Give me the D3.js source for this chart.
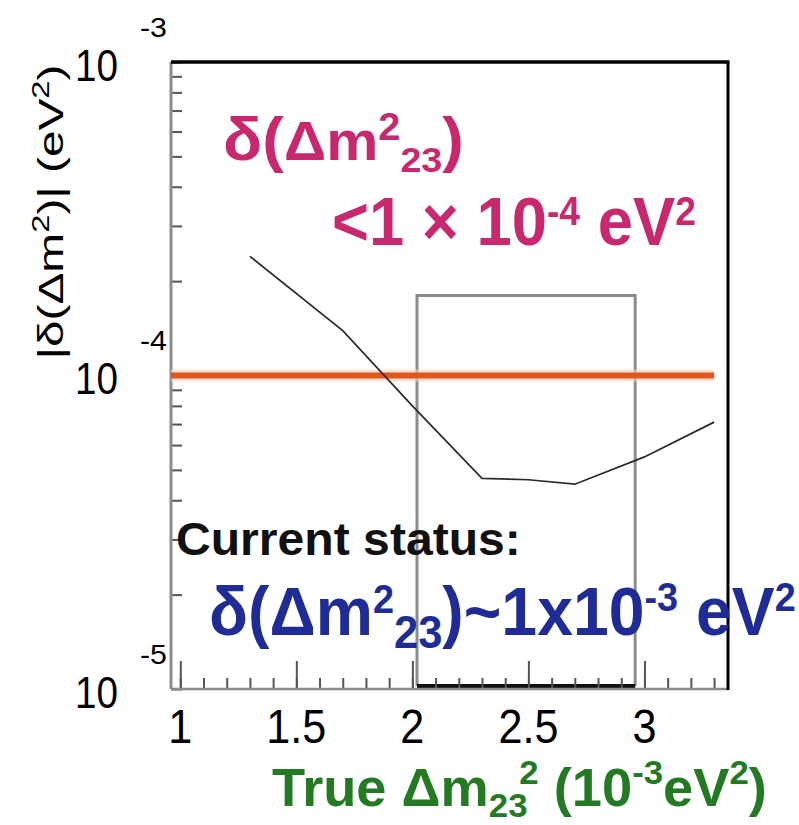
<!DOCTYPE html>
<html>
<head>
<meta charset="utf-8">
<script src="https://cdn.jsdelivr.net/npm/d3@7"></script>
<style>
  body { margin: 0; background: #fff; }
  svg { display: block; }
  text { font-family: "Liberation Sans", Arial, Helvetica, sans-serif; }
</style>
</head>
<body>
<svg id="chart" width="799" height="825"></svg>
<script>
// Expected precision on Δm²23 as a function of the true value
const trueMass = [1.3, 1.7, 2.0, 2.3, 2.5, 2.7, 3.0, 3.3];          // 10^-3 eV^2
const massError = [2.4e-4, 1.39e-4, 8.0e-5, 4.7e-5, 4.65e-5, 4.5e-5, 5.5e-5, 7.1e-5]; // eV^2

// Target precision
const goalError = 1e-4;

// Currently allowed Δm²23 range
const allowedMass = [2.02, 2.96];
const allowedTop = 1.8e-4;

// Axis ticks and labels
const xMajorTicks = [1, 1.5, 2, 2.5, 3];
const xTickLabels = ["1", "1.5", "2", "2.5", "3"];
const yDecades = [1e-3, 1e-4, 1e-5];
const yExponents = ["-3", "-4", "-5"];

const svg = d3.select("#chart");
const plot = { left: 171, right: 728, top: 62, bottom: 689 };

const x = d3.scaleLinear().domain([0.96, 3.36]).range([plot.left, plot.right]);
const y = d3.scaleLog().domain([1e-5, 1e-3]).range([plot.bottom, plot.top]);

// Rich text helper: parts carry their own size and baseline shift;
// the finished run is squeezed horizontally to a target width.
function richText(parent, opt) {
  const g = parent.append("g");
  if (opt.rotate) g.attr("transform", `translate(${opt.x},${opt.y}) rotate(${opt.rotate})`);
  const tx = opt.rotate ? 0 : opt.x, ty = opt.rotate ? 0 : opt.y;
  const t = g.append("text")
    .attr("x", tx).attr("y", ty)
    .attr("text-anchor", opt.anchor || "start")
    .attr("fill", opt.color || "#000")
    .attr("font-weight", opt.weight || "normal");
  let cur = 0;
  opt.parts.forEach(p => {
    const shift = p.shift || 0;
    const ts = t.append("tspan").attr("font-size", p.fs).attr("dy", shift - cur).text(p.t);
    if (p.dx) ts.attr("dx", p.dx);
    cur = shift;
  });
  const w = t.node().getBBox().width;
  let sx = 1;
  if (opt.width) sx = opt.width / w;
  if (opt.squash) sx = opt.squash;
  t.attr("transform", `translate(${tx},${ty}) scale(${sx},1) translate(${-tx},${-ty})`);
  return t;
}

// Allowed-range box
const bx0 = x(allowedMass[0]), bx1 = x(allowedMass[1]);
const byTop = y(allowedTop), byBot = y(1e-5) - 3;
svg.append("path")
  .attr("d", `M${bx0},${byBot}V${byTop}H${bx1}V${byBot}`)
  .attr("fill", "none").attr("stroke", "#8c8c8c").attr("stroke-width", 3);
svg.append("line")
  .attr("x1", bx0).attr("x2", bx1).attr("y1", byBot).attr("y2", byBot)
  .attr("stroke", "#111").attr("stroke-width", 4);

// Axes: ticks point into the plot
const gxMinor = svg.append("g").attr("transform", `translate(0,${plot.bottom})`)
  .call(d3.axisBottom(x).tickValues(x.ticks(24)).tickSize(-11).tickFormat(""));
const gxMajor = svg.append("g").attr("transform", `translate(0,${plot.bottom})`)
  .call(d3.axisBottom(x).tickValues(xMajorTicks).tickSize(-28).tickFormat(""));
const gy = svg.append("g").attr("transform", `translate(${plot.left},0)`)
  .call(d3.axisLeft(y).tickValues(y.ticks()).tickSize(-11).tickFormat(""));
[gxMinor, gxMajor, gy].forEach(g => {
  g.select(".domain").remove();
  g.selectAll(".tick line").attr("stroke", "#555").attr("stroke-width", 2);
});

// Frame: grey left/bottom axes, black top/right borders
svg.append("line").attr("x1", plot.left).attr("x2", plot.left)
  .attr("y1", plot.top).attr("y2", plot.bottom).attr("stroke", "#8c8c8c").attr("stroke-width", 3);
svg.append("line").attr("x1", plot.left).attr("x2", plot.right)
  .attr("y1", plot.bottom).attr("y2", plot.bottom).attr("stroke", "#8c8c8c").attr("stroke-width", 2.5);
svg.append("line").attr("x1", plot.left).attr("x2", plot.right + 1.5)
  .attr("y1", plot.top).attr("y2", plot.top).attr("stroke", "#000").attr("stroke-width", 3.5);
svg.append("line").attr("x1", plot.right).attr("x2", plot.right)
  .attr("y1", plot.top).attr("y2", plot.bottom + 1).attr("stroke", "#000").attr("stroke-width", 3);

// Target precision line
const gx0 = x(0.96), gx1 = x(trueMass[trueMass.length - 1]);
svg.append("line").attr("x1", gx0).attr("x2", gx1).attr("y1", y(goalError)).attr("y2", y(goalError))
  .attr("stroke", "#fbd3b8").attr("stroke-width", 12).attr("opacity", 0.6);
svg.append("line").attr("x1", gx0).attr("x2", gx1).attr("y1", y(goalError)).attr("y2", y(goalError))
  .attr("stroke", "#e0561c").attr("stroke-width", 6);

// Precision curve
svg.append("path")
  .datum(trueMass.map((m, i) => [m, massError[i]]))
  .attr("d", d3.line().x(d => x(d[0])).y(d => y(d[1])))
  .attr("fill", "none").attr("stroke", "#2a2a2a").attr("stroke-width", 1.7);

// Y tick labels: 10 with a raised exponent
yDecades.forEach((v, i) => {
  richText(svg, { x: 118, y: y(v) + 19, anchor: "end", parts: [{ t: "10", fs: 45 }], width: 43 });
  richText(svg, { x: 167, y: y(v) - 25, anchor: "end", parts: [{ t: yExponents[i], fs: 28 }], width: 27 });
});

// X tick labels
xMajorTicks.forEach((v, i) => {
  richText(svg, { x: x(v), y: 743, anchor: "middle", parts: [{ t: xTickLabels[i], fs: 49 }], squash: 0.88 });
});

// Y axis title
richText(svg, {
  x: 63, y: 212, rotate: -90, anchor: "middle", width: 295,
  parts: [
    { t: "|δ(Δm", fs: 35 }, { t: "2", fs: 24, shift: -14 },
    { t: ")| (eV", fs: 35, shift: 0 }, { t: "2", fs: 24, shift: -14 },
    { t: ")", fs: 35, shift: 0 }
  ]
});

// X axis title
richText(svg, {
  x: 272, y: 806, color: "#237a23", weight: "bold", width: 495,
  parts: [
    { t: "True Δm", fs: 53 }, { t: "23", fs: 34, shift: 11 },
    { t: "2", fs: 34, shift: -22, dx: -8 },
    { t: " (10", fs: 53, shift: 0 }, { t: "-3", fs: 34, shift: -22 },
    { t: "eV", fs: 53, shift: 0 }, { t: "2", fs: 34, shift: -22 },
    { t: ")", fs: 53, shift: 0 }
  ]
});

// Goal annotation
richText(svg, {
  x: 223, y: 160, color: "#c8286e", weight: "bold", width: 241,
  parts: [
    { t: "δ(", fs: 62 }, { t: "Δm", fs: 56 }, { t: "2", fs: 38, shift: -20 },
    { t: "23", fs: 36, shift: 12 }, { t: ")", fs: 62, shift: 0 }
  ]
});
richText(svg, {
  x: 332, y: 245, color: "#c8286e", weight: "bold", width: 364,
  parts: [
    { t: "<1 × 10", fs: 68 }, { t: "-4", fs: 40, shift: -20 },
    { t: " eV", fs: 68, shift: 0 }, { t: "2", fs: 40, shift: -20 }
  ]
});

// Current status annotation
richText(svg, {
  x: 176, y: 555, color: "#111", weight: "bold", width: 345,
  parts: [{ t: "Current status:", fs: 46 }]
});
richText(svg, {
  x: 209, y: 635, color: "#202c96", weight: "bold", width: 587,
  parts: [
    { t: "δ(Δm", fs: 68 }, { t: "2", fs: 40, shift: -22 },
    { t: "23", fs: 46, shift: 13 }, { t: ")~1x10", fs: 68, shift: 0 },
    { t: "-3", fs: 40, shift: -24 }, { t: " eV", fs: 68, shift: 0 },
    { t: "2", fs: 40, shift: -24 }
  ]
});
</script>
</body>
</html>
